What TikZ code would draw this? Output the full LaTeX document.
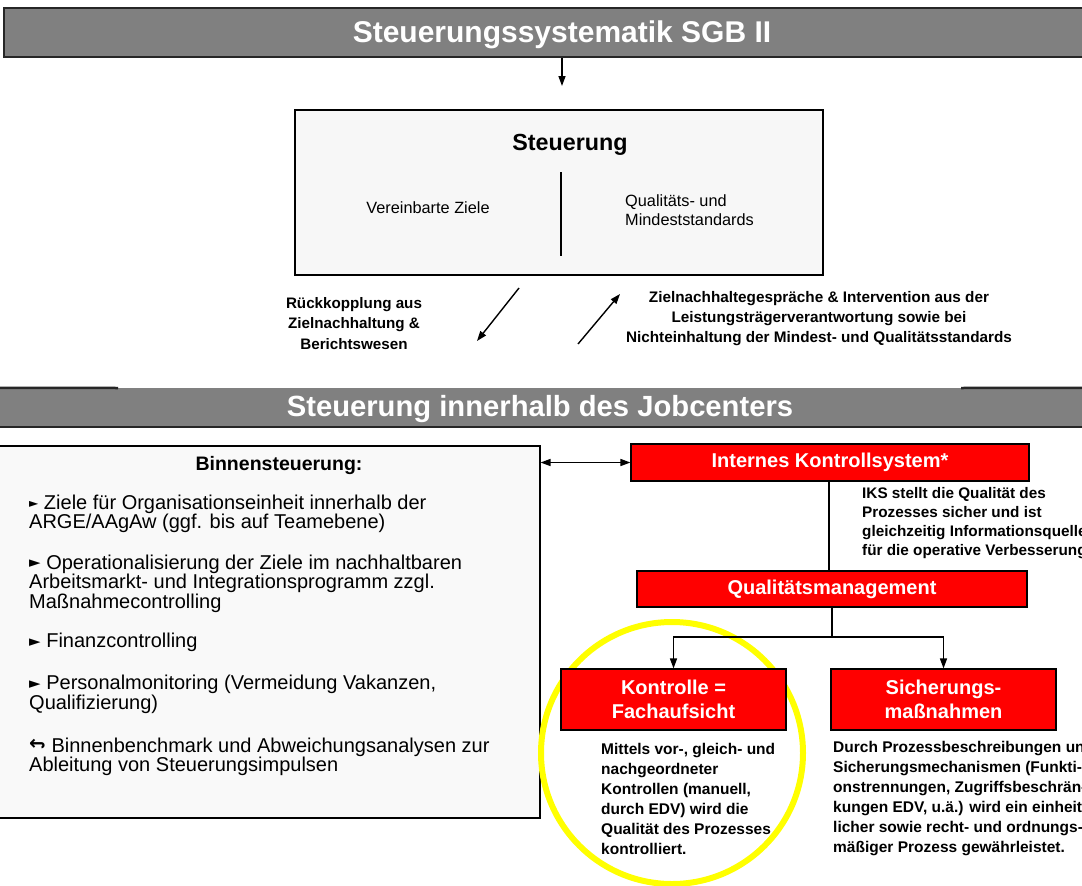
\documentclass[tikz,border=0pt]{standalone}
\usepackage{fontspec}
\setmainfont{Liberation Sans}
\newfontfamily\dejavu{DejaVu Sans}
\usetikzlibrary{arrows.meta}
\definecolor{bannergray}{HTML}{808080}
\definecolor{bannerline}{HTML}{262626}
\definecolor{boxgray}{HTML}{F7F7F7}
\definecolor{iksred}{HTML}{FF0000}
\definecolor{ringyellow}{HTML}{FFFF00}
\newcommand{\fsz}[2]{\fontsize{#1}{#2}\selectfont}
\newcommand{\smallbullet}{{\dejavu\fsz{12}{12}\raisebox{0.15em}{►}}}
\newcommand{\bigbullet}{{\dejavu\fsz{15}{15}\raisebox{0.1em}{►}}}
\newcommand{\hookarrow}{{\dejavu\bfseries\fsz{20}{20}\raisebox{0.74em}{\scalebox{1}[-1]{↩}}}}
\tikzset{
  banner/.style={fill=bannergray, inner sep=0pt, text=white, font=\bfseries},
  bannerborder/.style={draw=bannerline, line width=2.5pt},
  graybox/.style={draw=black, line width=1.1pt, fill=boxgray, inner sep=0pt},
  redbox/.style={draw=black, line width=1.1pt, fill=iksred, text=white, inner sep=0pt, align=center, font=\bfseries\fsz{20}{24}},
  plain/.style={inner sep=0pt, text=black},
  conn/.style={draw=black, line width=1.4pt},
  arr/.style={conn, -{Triangle[length=10pt,width=7pt]}},
  arrtwo/.style={conn, {Triangle[length=10pt,width=7pt]}-{Triangle[length=10pt,width=7pt]}},
  ring/.style={draw=ringyellow, line width=6pt}
}
\begin{document}
\begin{tikzpicture}[x=1pt,y=-1pt]
\useasboundingbox[fill=white] (0,0) rectangle (1082,886);

% top banner
\node[banner, bannerborder, minimum width=1116, minimum height=49] (sgb) at (562,32.5) {};
\node[plain, text=white, font=\bfseries\fsz{30}{30}] (sgbtext) at (562,35) {Steuerungssystematik SGB II};
\coordinate (a1end) at (562,86);
\draw[arr] (sgb.south) -- (a1end);

% Steuerung box
\node[graybox, minimum width=528, minimum height=165] (steu) at (559,192.5) {};
\node[plain, font=\bfseries\fsz{23.3}{26}] (steutitle) at (570,144.5) {Steuerung};
\draw[line width=1.1pt] (561,172) -- (561,256);
\node[plain, font=\fsz{16.3}{19}] (ziele) at (428,208) {Vereinbarte Ziele};
\node[plain, anchor=west, align=left, font=\fsz{16.3}{19}] (standards) at (625,210) {Qualitäts- und\\Mindeststandards};

% feedback arrows
\coordinate (fbstart) at (519,288);
\coordinate (fbend) at (477,341);
\draw[arr] (fbstart) -- (fbend);
\coordinate (zgstart) at (578,344);
\coordinate (zgend) at (620,294);
\draw[arr] (zgstart) -- (zgend);
\node[plain, align=center, font=\bfseries\fsz{15.2}{20.5}] (rueck) at (354,323.5) {Rückkopplung aus\\Zielnachhaltung \&\\Berichtswesen};
\node[plain, align=center, font=\bfseries\fsz{15.3}{20}] (zielnach) at (819,318.5) {Zielnachhaltegespräche \& Intervention aus der\\Leistungsträgerverantwortung sowie bei\\Nichteinhaltung der Mindest- und Qualitätsstandards};

% second banner
\node[banner, minimum width=1100, minimum height=39] (jc) at (540,407.5) {};
\node[plain, text=white, font=\bfseries\fsz{29.2}{30}] (jctext) at (540,409) {Steuerung innerhalb des Jobcenters};
\draw[bannerborder] (jc.south west) -- (jc.south east);
\draw[bannerborder] (jc.north west) -- (118,388);
\draw[bannerborder] (961,388) -- (jc.north east);

% Binnensteuerung
\node[graybox, fill=boxgray!80!white, minimum width=546, minimum height=372] (binnen) at (267,632) {};
\node[plain, font=\bfseries\fsz{19.5}{20}] (binnentitle) at (279,465) {Binnensteuerung:};
\node[plain, anchor=west, align=left, font=\fsz{20}{18.5}] (b1) at (29,514) {\smallbullet\ Ziele für Organisationseinheit innerhalb der\\ARGE/AAgAw (ggf. bis auf Teamebene)};
\node[plain, anchor=west, align=left, font=\fsz{20}{18.5}] (b2) at (29,583.5) {\bigbullet\ Operationalisierung der Ziele im nachhaltbaren\\Arbeitsmarkt- und Integrationsprogramm zzgl.\\Maßnahmecontrolling};
\node[plain, anchor=west, align=left, font=\fsz{20}{18.5}] (b3) at (29,642.5) {\bigbullet\ Finanzcontrolling};
\node[plain, anchor=west, align=left, font=\fsz{20}{18.5}] (b4) at (29,694.5) {\bigbullet\ Personalmonitoring (Vermeidung Vakanzen,\\Qualifizierung)};
\node[plain, anchor=west, align=left, font=\fsz{20}{18.5}] (b5) at (29,756.5) {\hookarrow\ Binnenbenchmark und Abweichungsanalysen zur\\Ableitung von Steuerungsimpulsen};

% yellow highlight ring (behind the red boxes)
\draw[ring] (672,753) circle[radius=131pt];

% IKS and QM
\node[redbox, minimum width=398, minimum height=37] (iks) at (830,462.5) {Internes Kontrollsystem*};
\draw[arrtwo] (iks.west -| binnen.east) -- (iks.west);
\node[redbox, minimum width=390, minimum height=36] (qm) at (832,589) {Qualitätsmanagement};
\draw[conn] (iks.south -| 829,0) -- (qm.north -| 829,0);
\node[plain, anchor=west, align=left, font=\bfseries\fsz{15.3}{19}] (iksdesc) at (862,523) {IKS stellt die Qualität des\\Prozesses sicher und ist\\gleichzeitig Informationsquelle\\für die operative Verbesserung};

% children
\node[redbox, minimum width=225, minimum height=61] (ko) at (673.5,699.5) {Kontrolle =\\Fachaufsicht};
\node[redbox, minimum width=225, minimum height=61] (si) at (943.5,699.5) {Sicherungs-\\maßnahmen};
\coordinate (split) at (832,637);
\draw[conn] (qm.south) -- (split);
\draw[arr] (split) -| (ko.north);
\draw[arr] (split) -| (si.north);
\node[plain, anchor=west, align=left, font=\bfseries\fsz{15.5}{20}] (kodesc) at (601,798.5) {Mittels vor-, gleich- und\\nachgeordneter\\Kontrollen (manuell,\\durch EDV) wird die\\Qualität des Prozesses\\kontrolliert.};
\node[plain, anchor=west, align=left, font=\bfseries\fsz{15.5}{20}] (sidesc) at (833,798.5) {Durch Prozessbeschreibungen und\\Sicherungsmechanismen (Funkti-\\onstrennungen, Zugriffsbeschrän-\\kungen EDV, u.ä.) wird ein einheit-\\licher sowie recht- und ordnungs-\\mäßiger Prozess gewährleistet.};
\end{tikzpicture}
\end{document}
